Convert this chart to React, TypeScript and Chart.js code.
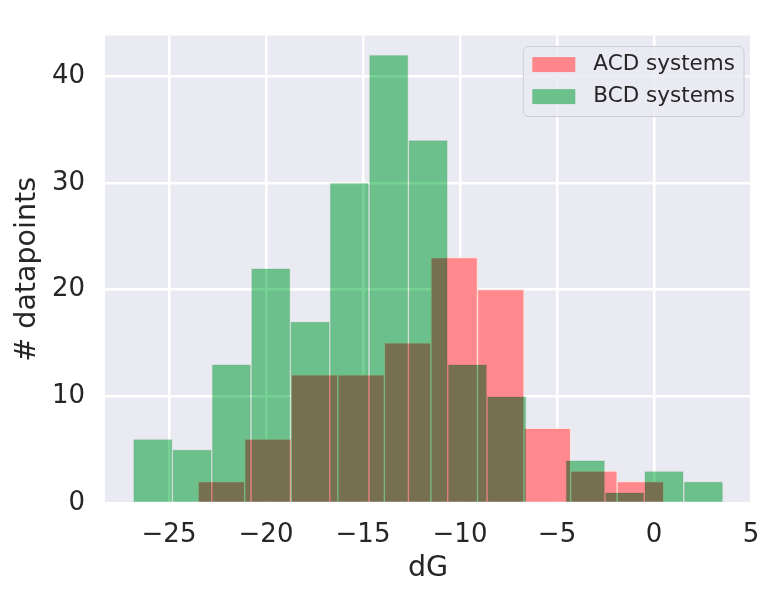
import React, { useEffect, useRef } from "react";
import { Chart, registerables } from "chart.js";

Chart.register(...registerables);

// ---- data ----
const acdLabel = "ACD systems";
const bcdLabel = "BCD systems";
const acdBinEdges = [-23.5, -21.1, -18.7, -16.3, -13.9, -11.5, -9.1, -6.7, -4.3, -1.9, 0.5];
const acdCounts = [2, 6, 12, 12, 15, 23, 20, 7, 3, 2];
const bcdBinEdges = [-26.85, -24.82, -22.8, -20.77, -18.74, -16.72, -14.69, -12.66, -10.63, -8.61, -6.58, -4.55, -2.53, -0.5, 1.53, 3.56];
const bcdCounts = [6, 5, 13, 22, 17, 30, 42, 34, 13, 10, 0, 4, 1, 3, 2];
const xLimits = [-28.3, 5.0];
const yLimits = [0, 43.8];
const xTickStep = 5;
const yTickStep = 10;
const xTitle = "dG";
const yTitle = "# datapoints";

// ---- styles ----
const FONT = "DejaVu Sans";
const TEXT = "#262626";
const AXES_BG = "#EAEAF2";
const ACD_FILL = "#FF898C";
const BCD_FILL = "#76D194"; // drawn with multiply blending
const ACD_SWATCH = "#FF878C";
const BCD_SWATCH = "#6CC08C";

const toBars = (edges: number[], counts: number[]) =>
  counts.map((c, i) => ({ x: (edges[i] + edges[i + 1]) / 2, y: c }));

const fmtTick = (v: number) => (v < 0 ? "\u2212" + Math.abs(v) : String(v));

const bgPlugin = {
  id: "axesBackground",
  beforeDraw(chart: any) {
    const { ctx, chartArea } = chart;
    ctx.save();
    ctx.fillStyle = AXES_BG;
    ctx.fillRect(chartArea.left, chartArea.top, chartArea.right - chartArea.left, chartArea.bottom - chartArea.top);
    ctx.restore();
  },
};

const blendPlugin = {
  id: "blendOverlap",
  beforeDatasetDraw(chart: any, args: any) {
    if (chart.data.datasets[args.index].label === bcdLabel) {
      chart.ctx.save();
      chart.ctx.globalCompositeOperation = "multiply";
    }
  },
  afterDatasetDraw(chart: any, args: any) {
    if (chart.data.datasets[args.index].label === bcdLabel) {
      chart.ctx.restore();
    }
  },
};

const legendPlugin = {
  id: "insideLegend",
  afterDatasetsDraw(chart: any) {
    const { ctx, chartArea } = chart;
    const items = [
      { label: acdLabel, color: ACD_SWATCH },
      { label: bcdLabel, color: BCD_SWATCH },
    ];
    ctx.save();
    ctx.font = `21.5px "${FONT}"`;
    const textW = Math.max(...items.map((it) => ctx.measureText(it.label).width));
    const padX = 9;
    const swW = 43;
    const swH = 15;
    const gap = 18;
    const width = padX + swW + gap + textW + 9;
    const height = 70;
    const right = chartArea.right - 7;
    const left = right - width;
    const top = chartArea.top + 11;
    const r = 5;
    ctx.beginPath();
    ctx.moveTo(left + r, top);
    ctx.arcTo(left + width, top, left + width, top + height, r);
    ctx.arcTo(left + width, top + height, left, top + height, r);
    ctx.arcTo(left, top + height, left, top, r);
    ctx.arcTo(left, top, left + width, top, r);
    ctx.closePath();
    ctx.fillStyle = "rgba(234,234,242,0.85)";
    ctx.fill();
    ctx.lineWidth = 1;
    ctx.strokeStyle = "rgba(205,205,212,1)";
    ctx.stroke();
    items.forEach((it, i) => {
      const cy = top + 18 + i * 32;
      ctx.fillStyle = it.color;
      ctx.fillRect(left + padX, cy - swH / 2, swW, swH);
      ctx.fillStyle = TEXT;
      ctx.textBaseline = "middle";
      ctx.textAlign = "left";
      ctx.fillText(it.label, left + padX + swW + gap, cy);
    });
    ctx.restore();
  },
};

export default function App() {
  const ref = useRef<HTMLCanvasElement | null>(null);

  useEffect(() => {
    if (!ref.current) return;
    const tickFont = { family: FONT, size: 26 };
    const titleFont = { family: FONT, size: 28.5 };
    const grid = { color: "#FFFFFF", lineWidth: 2.5, drawTicks: false, offset: false };
    const chart = new Chart(ref.current, {
      type: "bar",
      data: {
        datasets: [
          {
            label: acdLabel,
            data: toBars(acdBinEdges, acdCounts),
            xAxisID: "x",
            backgroundColor: ACD_FILL,
            borderColor: "rgba(255,225,215,1)",
            borderWidth: 1,
            barPercentage: 1,
            categoryPercentage: 1,
            grouped: false,
            order: 2,
          },
          {
            label: bcdLabel,
            data: toBars(bcdBinEdges, bcdCounts),
            xAxisID: "x2",
            backgroundColor: BCD_FILL,
            borderColor: "rgba(236,246,236,1)",
            borderWidth: 1,
            barPercentage: 1,
            categoryPercentage: 1,
            grouped: false,
            order: 1,
          },
        ] as any,
      },
      options: {
        animation: false,
        responsive: false,
        events: [],
        layout: { padding: { top: 31, right: 29, left: 0, bottom: 0 } },
        plugins: {
          legend: { display: false },
          tooltip: { enabled: false },
        },
        scales: {
          x: {
            type: "linear",
            position: "bottom",
            min: xLimits[0],
            max: xLimits[1],
            offset: false,
            grid,
            border: { display: false },
            ticks: {
              stepSize: xTickStep,
              includeBounds: false,
              color: TEXT,
              font: tickFont,
              padding: 17,
              maxRotation: 0,
              autoSkip: false,
              callback: (v: any) => fmtTick(Number(v)),
            },
            title: { display: true, text: xTitle, color: TEXT, font: titleFont, padding: { top: 0, bottom: 14 } },
            afterFit: (s: any) => {
              s.height = 97;
            },
          },
          x2: {
            type: "linear",
            position: "bottom",
            display: false,
            min: xLimits[0],
            max: xLimits[1],
            offset: false,
            grid: { display: false, offset: false },
            ticks: { stepSize: xTickStep, includeBounds: false },
          },
          y: {
            type: "linear",
            min: yLimits[0],
            max: yLimits[1],
            grid,
            border: { display: false },
            ticks: {
              stepSize: yTickStep,
              includeBounds: false,
              color: TEXT,
              font: tickFont,
              padding: 20,
              callback: (v: any) => fmtTick(Number(v)),
            },
            title: { display: true, text: yTitle, color: TEXT, font: titleFont, padding: { top: 10, bottom: 0 } },
            afterFit: (s: any) => {
              s.width = 105;
            },
          },
        },
      } as any,
      plugins: [bgPlugin, blendPlugin, legendPlugin],
    });
    return () => chart.destroy();
  }, []);

  return (
    <div style={{ position: "absolute", left: 0, top: 0, width: 780, height: 600, background: "#FFFFFF" }}>
      <canvas ref={ref} width={780} height={600} style={{ display: "block" }} />
    </div>
  );
}
